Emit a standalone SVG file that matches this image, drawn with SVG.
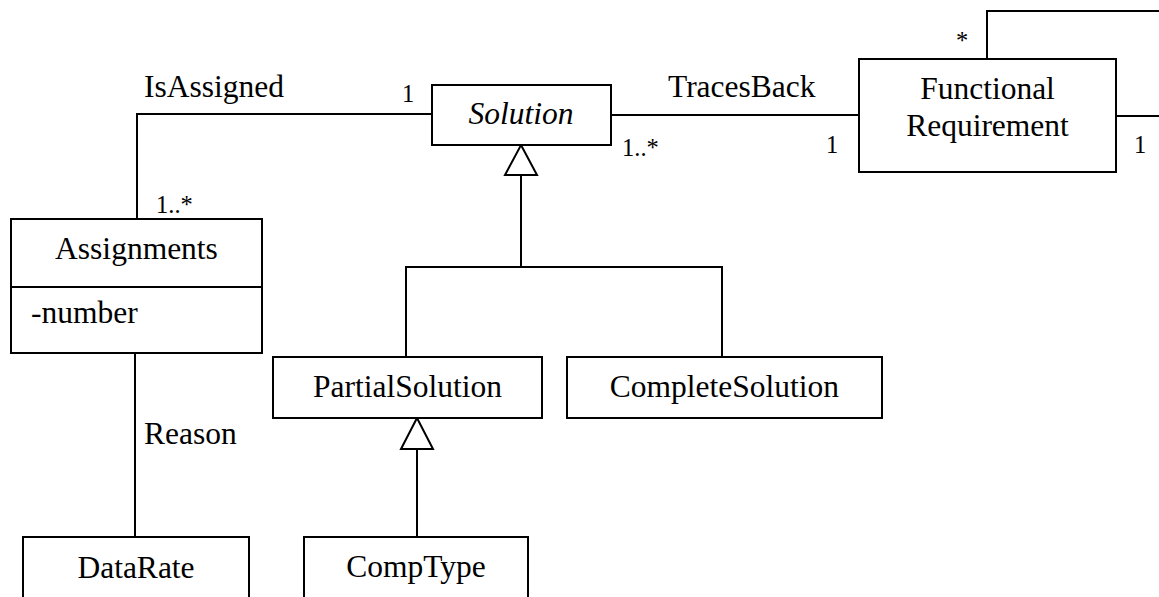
<svg xmlns="http://www.w3.org/2000/svg" width="1159" height="597" viewBox="0 0 1159 597">
<style>
.box{fill:#fff;stroke:#000;stroke-width:2}
.ln{fill:none;stroke:#000;stroke-width:2}
.tri{fill:#fff;stroke:#000;stroke-width:2;stroke-linejoin:miter}
.t{font-size:31.5px}
.m{font-size:24.5px}
.c{text-anchor:middle}
</style>
<rect width="1159" height="597" fill="#fff"/>
<g font-family="Liberation Serif, Times New Roman, serif" fill="#000">
<g id="connectors">
<path class="ln" d="M137,219 V114 H432"/>
<path class="ln" d="M611,115 H859"/>
<path class="ln" d="M987,59 V11 H1160"/>
<path class="ln" d="M1116,116 H1160"/>
<path class="ln" d="M521,175 V267"/>
<path class="ln" d="M406,357 V267 H722 V357"/>
<path class="tri" d="M521,145 L537,175 L505,175 Z"/>
<path class="ln" d="M135,353 V537"/>
<path class="ln" d="M417,449 V537"/>
<path class="tri" d="M417,418 L433,449 L401,449 Z"/>
<text class="t" x="144" y="97">IsAssigned</text>
<text class="m" x="402" y="102">1</text>
<text class="m" x="156" y="213">1..*</text>
<text class="m" x="622" y="156">1..*</text>
<text class="t" x="668" y="97">TracesBack</text>
<text class="m" x="826" y="153">1</text>
<text class="m" x="956" y="49">*</text>
<text class="m" x="1134" y="153">1</text>
<text class="t" x="144" y="444">Reason</text>
</g>
<g id="solution">
<rect class="box" x="432" y="85" width="179" height="60"/>
<text class="t c" x="521" y="124" font-style="italic">Solution</text>
</g>
<g id="functional-requirement">
<rect class="box" x="859" y="59" width="257" height="113"/>
<text class="t c" x="987.5" y="99">Functional</text>
<text class="t c" x="987.5" y="136">Requirement</text>
</g>
<g id="assignments">
<rect class="box" x="11" y="219" width="251" height="134"/>
<line class="ln" x1="11" y1="287" x2="262" y2="287"/>
<text class="t c" x="136.5" y="259">Assignments</text>
<text class="t" x="31" y="323">-number</text>
</g>
<g id="partial-solution">
<rect class="box" x="273" y="357" width="269" height="61"/>
<text class="t c" x="407.5" y="397">PartialSolution</text>
</g>
<g id="complete-solution">
<rect class="box" x="567" y="357" width="315" height="61"/>
<text class="t c" x="724.5" y="397">CompleteSolution</text>
</g>
<g id="datarate">
<rect class="box" x="23" y="537" width="226" height="80"/>
<text class="t c" x="136" y="578">DataRate</text>
</g>
<g id="comptype">
<rect class="box" x="304" y="537" width="224" height="80"/>
<text class="t c" x="416" y="577">CompType</text>
</g>
</g>
</svg>
